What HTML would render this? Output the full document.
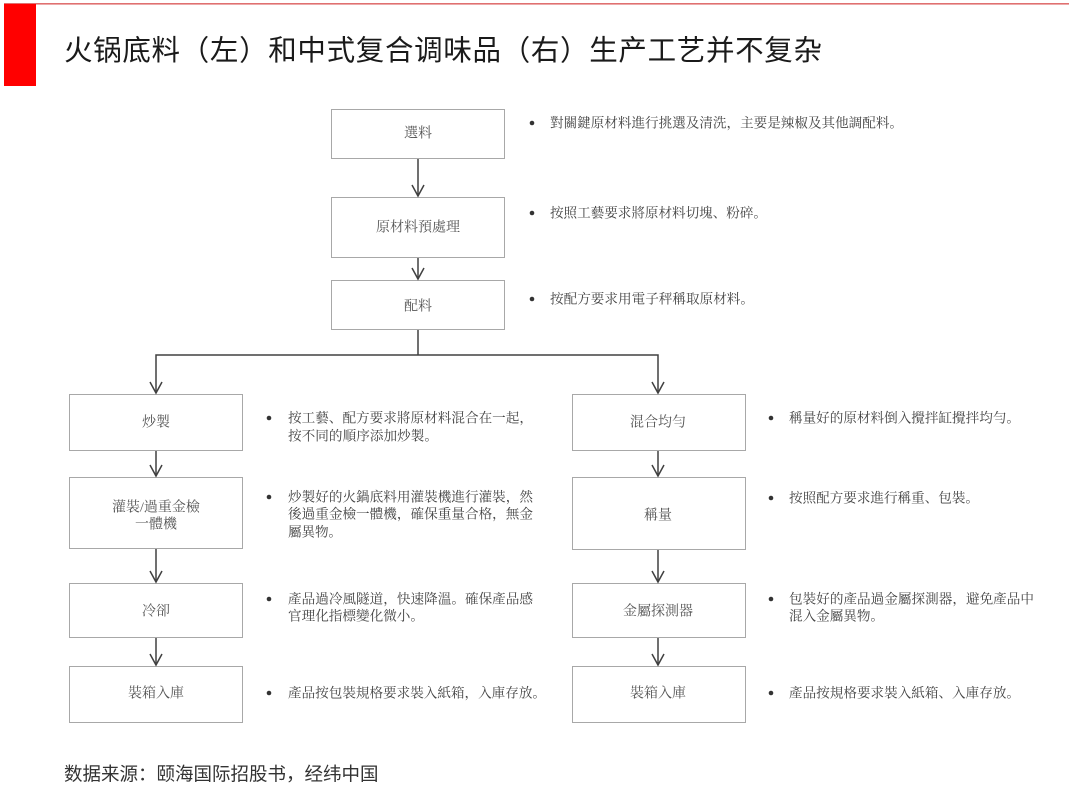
<!DOCTYPE html>
<html>
<head>
<meta charset="utf-8">
<style>
  html, body { margin: 0; padding: 0; background: #ffffff; }
  body { width: 1080px; height: 793px; overflow: hidden; }
  svg { display: block; }
  .lbl { font-family: "Liberation Serif", "Noto Serif CJK SC", serif; font-size: 14px; fill: #555; }
  .txt { font-family: "Liberation Serif", "Noto Serif CJK SC", serif; font-size: 13.6px; fill: #444; }
  .title { font-family: "Liberation Sans", "Noto Sans CJK SC", sans-serif; font-size: 28.5px; fill: #1a1a1a; }
  .src { font-family: "Liberation Sans", "Noto Sans CJK SC", sans-serif; font-size: 18.5px; fill: #333; }
</style>
</head>
<body>
<svg width="1080" height="793" viewBox="0 0 1080 793" xmlns="http://www.w3.org/2000/svg">
  <!-- header -->
  <rect x="4" y="3" width="1065" height="1.6" fill="#e07070"/>
  <rect x="4" y="4" width="32" height="82" fill="#ff0000"/>
  <text class="title" x="64" y="51" dominant-baseline="central" textLength="758" lengthAdjust="spacing">火锅底料（左）和中式复合调味品（右）生产工艺并不复杂</text>

  <!-- boxes -->
  <g fill="#fff" stroke="#a8a8a8" stroke-width="1">
    <rect x="331.5" y="109.5" width="173" height="49"/>
    <rect x="331.5" y="197.5" width="173" height="60"/>
    <rect x="331.5" y="280.5" width="173" height="49"/>

    <rect x="69.5" y="394.5" width="173" height="56"/>
    <rect x="69.5" y="477.5" width="173" height="71"/>
    <rect x="69.5" y="583.5" width="173" height="54"/>
    <rect x="69.5" y="666.5" width="173" height="56"/>

    <rect x="572.5" y="394.5" width="173" height="56"/>
    <rect x="572.5" y="477.5" width="173" height="72"/>
    <rect x="572.5" y="583.5" width="173" height="54"/>
    <rect x="572.5" y="666.5" width="173" height="56"/>
  </g>

  <!-- connectors -->
  <g stroke="#404040" stroke-width="1.5" fill="none">
    <line x1="418" y1="159" x2="418" y2="196"/>
    <polyline points="412,185 418,196 424,185"/>
    <line x1="418" y1="258" x2="418" y2="279"/>
    <polyline points="412,268 418,279 424,268"/>

    <line x1="418" y1="330" x2="418" y2="355"/>
    <polyline points="156,393 156,355 658,355 658,393"/>
    <polyline points="150,382 156,393 162,382"/>
    <polyline points="652,382 658,393 664,382"/>

    <line x1="156" y1="451" x2="156" y2="476"/>
    <polyline points="150,465 156,476 162,465"/>
    <line x1="156" y1="549" x2="156" y2="582"/>
    <polyline points="150,571 156,582 162,571"/>
    <line x1="156" y1="638" x2="156" y2="665"/>
    <polyline points="150,654 156,665 162,654"/>

    <line x1="658" y1="451" x2="658" y2="476"/>
    <polyline points="652,465 658,476 664,465"/>
    <line x1="658" y1="550" x2="658" y2="582"/>
    <polyline points="652,571 658,582 664,571"/>
    <line x1="658" y1="638" x2="658" y2="665"/>
    <polyline points="652,654 658,665 664,654"/>
  </g>

  <!-- box labels -->
  <g class="lbl" text-anchor="middle" dominant-baseline="central">
    <text x="418" y="134">選料</text>
    <text x="418" y="228">原材料預處理</text>
    <text x="418" y="307">配料</text>

    <text x="156" y="423">炒製</text>
    <text x="156" y="508">灌裝/過重金檢</text>
    <text x="156" y="525">一體機</text>
    <text x="156" y="612">冷卻</text>
    <text x="156" y="694">裝箱入庫</text>

    <text x="658" y="423">混合均勻</text>
    <text x="658" y="516">稱量</text>
    <text x="658" y="612">金屬探測器</text>
    <text x="658" y="694">裝箱入庫</text>
  </g>

  <!-- bullets -->
  <g fill="#333">
    <circle cx="532" cy="123" r="2.3"/>
    <circle cx="532" cy="213" r="2.3"/>
    <circle cx="532" cy="299" r="2.3"/>

    <circle cx="269" cy="418" r="2.3"/>
    <circle cx="269" cy="497" r="2.3"/>
    <circle cx="269" cy="599" r="2.3"/>
    <circle cx="269" cy="693" r="2.3"/>

    <circle cx="771" cy="418" r="2.3"/>
    <circle cx="771" cy="498" r="2.3"/>
    <circle cx="771" cy="599" r="2.3"/>
    <circle cx="771" cy="693" r="2.3"/>
  </g>

  <g class="txt" dominant-baseline="central" lengthAdjust="spacing">
    <text x="550" y="123" textLength="353" lengthAdjust="spacing">對關鍵原材料進行挑選及清洗，主要是辣椒及其他調配料。</text>
    <text x="550" y="213" textLength="217" lengthAdjust="spacing">按照工藝要求將原材料切塊、粉碎。</text>
    <text x="550" y="299" textLength="204" lengthAdjust="spacing">按配方要求用電子秤稱取原材料。</text>

    <text x="288" y="418" textLength="245" lengthAdjust="spacing">按工藝、配方要求將原材料混合在一起，</text>
    <text x="288" y="436" textLength="150" lengthAdjust="spacing">按不同的順序添加炒製。</text>

    <text x="288" y="497" textLength="245" lengthAdjust="spacing">炒製好的火鍋底料用灌裝機進行灌裝，然</text>
    <text x="288" y="514" textLength="245" lengthAdjust="spacing">後過重金檢一體機，確保重量合格，無金</text>
    <text x="288" y="532" textLength="54" lengthAdjust="spacing">屬異物。</text>

    <text x="288" y="599" textLength="245" lengthAdjust="spacing">產品過冷風隧道，快速降溫。確保產品感</text>
    <text x="288" y="616" textLength="136" lengthAdjust="spacing">官理化指標變化微小。</text>

    <text x="288" y="693" textLength="258" lengthAdjust="spacing">產品按包裝規格要求裝入紙箱，入庫存放。</text>

    <text x="789" y="418" textLength="231" lengthAdjust="spacing">稱量好的原材料倒入攪拌缸攪拌均勻。</text>
    <text x="789" y="498" textLength="190" lengthAdjust="spacing">按照配方要求進行稱重、包裝。</text>
    <text x="789" y="599" textLength="245" lengthAdjust="spacing">包裝好的產品過金屬探測器，避免產品中</text>
    <text x="789" y="616" textLength="95" lengthAdjust="spacing">混入金屬異物。</text>
    <text x="789" y="693" textLength="231" lengthAdjust="spacing">產品按規格要求裝入紙箱、入庫存放。</text>
  </g>

  <!-- source -->
  <text class="src" x="64" y="774" dominant-baseline="central">数据来源：颐海国际招股书，经纬中国</text>
</svg>
</body>
</html>
